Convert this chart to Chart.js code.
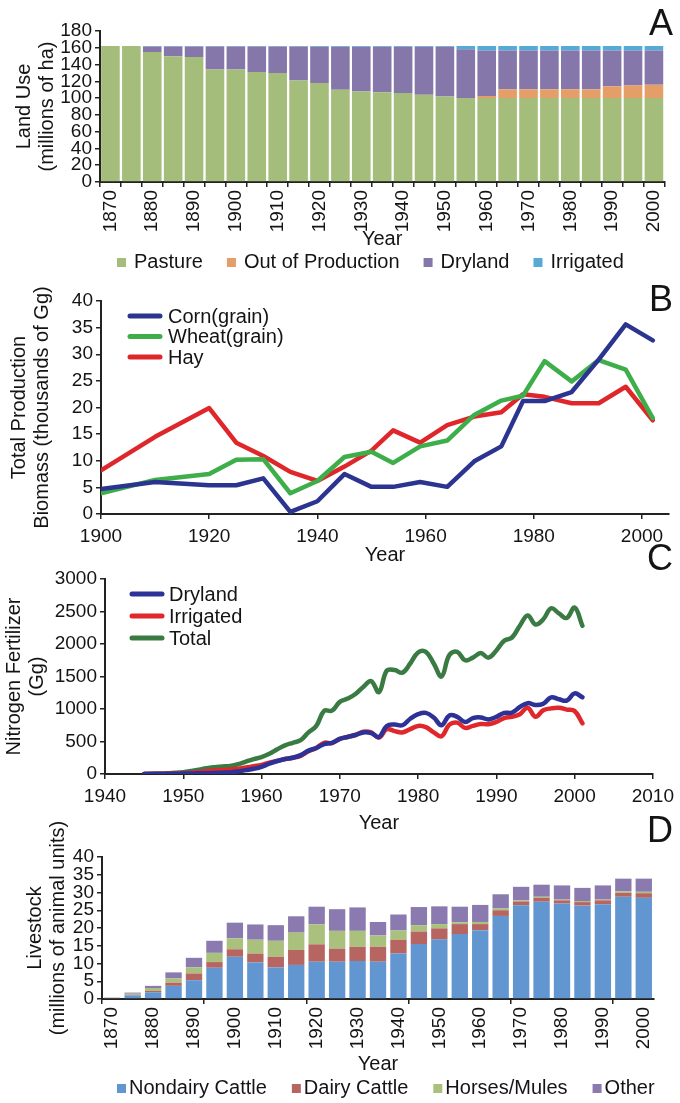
<!DOCTYPE html>
<html>
<head>
<meta charset="utf-8">
<script src="https://cdn.jsdelivr.net/npm/chart.js@4.4.0/dist/chart.umd.min.js"></script>
<style>
  html, body { margin: 0; padding: 0; background: #fff; }
  body { width: 680px; height: 1103px; position: relative; overflow: hidden; }
  canvas { position: absolute; left: 0; }
</style>
</head>
<body>
<canvas id="chartA" width="680" height="280" style="top:0px"></canvas>
<canvas id="chartB" width="680" height="290" style="top:280px"></canvas>
<canvas id="chartC" width="680" height="300" style="top:540px"></canvas>
<canvas id="chartD" width="680" height="293" style="top:810px"></canvas>
<script>
// A: land use (millions of ha)
var landYears = [1870, 1875, 1880, 1885, 1890, 1895, 1900, 1905, 1910, 1915, 1920, 1925, 1930, 1935,
                 1940, 1945, 1950, 1955, 1960, 1965, 1970, 1975, 1980, 1985, 1990, 1995, 2000];
var pasture = [162, 162, 155, 150, 149, 134, 134, 131, 130, 121, 118, 110, 108, 107,
               106, 104, 102, 100, 100, 100, 100, 100, 100, 100, 100, 100, 100];
var outOfProduction = [0, 0, 0, 0, 0, 0, 0, 0, 0, 0, 0, 0, 0, 0,
                       0, 0, 0, 0, 2.5, 10.5, 10.5, 10.5, 10.5, 10.5, 14, 15, 16];
var dryland = [0, 0, 6.6, 11.6, 12.6, 27.6, 27.6, 30.6, 31.6, 40.6, 43.2, 51.2, 53.2, 54.2,
               55.2, 57.2, 59.2, 58.3, 54.2, 46.2, 46.2, 46.2, 46.2, 46.2, 42.7, 41.7, 40.7];
var irrigated = [0, 0, 0.4, 0.4, 0.4, 0.4, 0.4, 0.4, 0.4, 0.4, 0.8, 0.8, 0.8, 0.8,
                 0.8, 0.8, 0.8, 3.7, 5.3, 5.3, 5.3, 5.3, 5.3, 5.3, 5.3, 5.3, 5.3];

// B: total production biomass (thousands of Gg)
var cropYears = [1900, 1910, 1920, 1925, 1930, 1935, 1940, 1945, 1950, 1954,
                 1959, 1964, 1969, 1974, 1978, 1982, 1987, 1992, 1997, 2002];
var corn = [4.7, 6.0, 5.4, 5.4, 6.7, 0.4, 2.4, 7.5, 5.1, 5.1,
            6.0, 5.1, 9.9, 12.7, 21.2, 21.2, 22.9, 29.0, 35.6, 32.6];
var wheat = [3.9, 6.4, 7.5, 10.2, 10.3, 3.9, 6.2, 10.7, 11.7, 9.6,
             12.7, 13.8, 18.6, 21.3, 22.2, 28.7, 24.9, 28.9, 27.1, 18.0];
var hay = [8.2, 14.5, 19.9, 13.4, 10.9, 7.9, 6.2, 8.9, 11.9, 15.7,
           13.4, 16.7, 18.3, 19.1, 22.5, 22.0, 20.8, 20.8, 23.9, 17.6];
var cropTicks = [1900, 1920, 1940, 1960, 1980, 2000];

// C: nitrogen fertilizer (Gg)
var fertYears = [1945, 1946, 1947, 1948, 1949, 1950, 1951, 1952, 1953, 1954,
                 1955, 1956, 1957, 1958, 1959, 1960, 1961, 1962, 1963, 1964,
                 1965, 1966, 1967, 1968, 1969, 1970, 1971, 1972, 1973, 1974,
                 1975, 1976, 1977, 1978, 1979, 1980, 1981, 1982, 1983, 1984,
                 1985, 1986, 1987, 1988, 1989, 1990, 1991, 1992, 1993, 1994,
                 1995, 1996, 1997, 1998, 1999, 2000, 2001];
var fertDryland = [0, 0, 0, 2, 4, 6, 8, 10, 12, 15,
                   20, 25, 40, 60, 80, 110, 160, 200, 230, 250,
                   290, 360, 400, 460, 480, 540, 570, 600, 640, 630,
                   570, 740, 760, 750, 850, 920, 940, 870, 750, 900,
                   880, 800, 860, 870, 840, 880, 940, 945, 1030, 1090,
                   1060, 1080, 1180, 1150, 1130, 1240, 1180];
var fertIrrigated = [0, 2, 4, 6, 8, 12, 20, 30, 45, 55,
                     60, 70, 80, 100, 120, 140, 175, 200, 230, 250,
                     280, 350, 400, 480, 475, 540, 570, 600, 650, 640,
                     560, 690, 660, 640, 690, 740, 720, 640, 580, 760,
                     790, 710, 740, 770, 765, 800, 860, 880, 920, 1020,
                     880, 980, 1010, 1020, 990, 970, 780];
var fertTotal = [0, 4, 8, 12, 18, 28, 45, 65, 90, 105,
                 115, 125, 150, 190, 230, 260, 310, 380, 440, 480,
                 520, 640, 740, 970, 975, 1110, 1160, 1230, 1340, 1430,
                 1260, 1590, 1600, 1560, 1700, 1870, 1880, 1700, 1500, 1830,
                 1880, 1750, 1790, 1860, 1790, 1900, 2050, 2100, 2280, 2440,
                 2300, 2380, 2550, 2470, 2400, 2560, 2280];
var fertTicks = [1940, 1950, 1960, 1970, 1980, 1990, 2000, 2010];

// D: livestock (millions of animal units)
var stockYears = landYears;
var nondairy = [0.2, 1.0, 1.9, 3.7, 5.3, 8.8, 11.9, 10.3, 8.9, 9.6, 10.5, 10.5, 10.7, 10.5,
                12.8, 15.5, 16.8, 18.3, 19.4, 23.4, 26.4, 27.4, 26.9, 26.3, 26.7, 28.8, 28.5];
var dairy = [0.05, 0.2, 0.4, 0.9, 1.9, 1.6, 2.1, 2.5, 3.0, 4.2, 4.9, 3.7, 4.0, 4.2,
             3.9, 3.5, 3.1, 2.8, 1.7, 1.6, 1.1, 1.1, 0.9, 1.0, 1.1, 1.1, 1.3];
var horses = [0.05, 0.3, 0.8, 1.2, 1.7, 2.6, 3.1, 3.9, 4.5, 4.9, 5.6, 5.0, 4.5, 3.2,
              2.6, 1.8, 1.2, 0.5, 0.6, 0.5, 0.3, 0.3, 0.2, 0.3, 0.2, 0.4, 0.4];
var otherStock = [0.1, 0.3, 0.6, 1.7, 2.7, 3.4, 4.4, 4.3, 4.4, 4.6, 5.0, 6.1, 6.6, 3.8,
                  4.5, 5.1, 5.0, 4.4, 4.8, 4.0, 3.8, 3.4, 4.0, 3.7, 4.0, 3.6, 3.7];

var FONT = "'Liberation Sans', Arial, sans-serif";
var INK = '#141414';
Chart.defaults.font.family = FONT;
Chart.defaults.font.size = 19;
Chart.defaults.color = INK;

function fixWidth(w) { return function (axis) { axis.width = w; }; }
function fixHeight(h) { return function (axis) { axis.height = h; }; }
function plain(v) { return String(v); }
function points(xs, ys) { return xs.map(function (x, i) { return { x: x, y: ys[i] }; }); }

// panel letter + hand placed legend
function decor(letter, base, legend) {
  return {
    id: 'decor' + letter,
    afterDraw: function (chart) {
      var ctx = chart.ctx;
      ctx.save();
      ctx.fillStyle = INK;
      ctx.font = '36px ' + FONT;
      ctx.textAlign = 'right';
      ctx.textBaseline = 'alphabetic';
      ctx.fillText(letter, 673, base);
      legend(chart, ctx);
      ctx.restore();
    }
  };
}

function boxLegend(x0, yc, textGap, itemGap) {
  return function (chart, ctx) {
    ctx.font = '20px ' + FONT;
    ctx.textAlign = 'left';
    ctx.textBaseline = 'middle';
    var x = x0;
    chart.data.datasets.forEach(function (ds) {
      ctx.fillStyle = ds.backgroundColor;
      ctx.fillRect(x, yc - 4, 9, 9);
      x += 9 + textGap;
      ctx.fillStyle = INK;
      ctx.fillText(ds.label, x, yc);
      x += ctx.measureText(ds.label).width + itemGap;
    });
  };
}

function lineLegend(x0, y0, rowH, textX) {
  return function (chart, ctx) {
    ctx.font = '20px ' + FONT;
    ctx.textAlign = 'left';
    ctx.textBaseline = 'middle';
    chart.data.datasets.forEach(function (ds, i) {
      var y = y0 + i * rowH;
      ctx.strokeStyle = ds.borderColor;
      ctx.lineWidth = 5;
      ctx.lineCap = 'round';
      ctx.beginPath();
      ctx.moveTo(x0, y);
      ctx.lineTo(x0 + 30, y);
      ctx.stroke();
      ctx.fillStyle = INK;
      ctx.fillText(ds.label, textX, y + 1);
    });
  };
}

function yAxis(max, step, width, lines, pad, stacked) {
  return {
    stacked: !!stacked,
    min: 0, max: max,
    ticks: { stepSize: step, padding: 3, autoSkip: false, callback: plain },
    grid: { drawOnChartArea: false, tickLength: 5, color: '#222', lineWidth: 1.5 },
    border: { color: '#222', width: 2 },
    title: { display: true, text: lines, font: { size: 20, lineHeight: 1.15 }, padding: { top: pad, bottom: 0 } },
    afterFit: fixWidth(width)
  };
}

function yearTitle() {
  return { display: true, text: 'Year', font: { size: 20, lineHeight: 1.15 }, padding: { top: 0, bottom: 0 } };
}

function barXAxis(height, tickColor) {
  return {
    stacked: true,
    grid: { offset: true, drawOnChartArea: false, tickLength: 5, color: tickColor, lineWidth: 1.5 },
    border: { color: '#222', width: 2 },
    ticks: {
      autoSkip: false, minRotation: 90, maxRotation: 90, padding: 3,
      callback: function (v, i) { return i % 2 === 0 ? String(this.getLabelForValue(v)) : ''; }
    },
    title: yearTitle(),
    afterFit: fixHeight(height)
  };
}

function lineXAxis(min, max, tickValues, height) {
  return {
    type: 'linear', min: min, max: max,
    afterBuildTicks: function (axis) {
      axis.ticks = tickValues.map(function (v) { return { value: v }; });
    },
    ticks: { padding: 6, maxRotation: 0, autoSkip: false, callback: plain },
    grid: { drawOnChartArea: false, tickLength: 5, color: '#222', lineWidth: 1.5 },
    border: { color: '#222', width: 2 },
    title: yearTitle(),
    afterFit: fixHeight(height)
  };
}

var base = { responsive: false, animation: false, devicePixelRatio: 1 };
var quiet = { legend: { display: false }, tooltip: { enabled: false } };

new Chart(document.getElementById('chartA'), {
  type: 'bar',
  data: {
    labels: landYears,
    datasets: [
      { label: 'Pasture', data: pasture, backgroundColor: '#a5bd7b' },
      { label: 'Out of Production', data: outOfProduction, backgroundColor: '#e49e67' },
      { label: 'Dryland', data: dryland, backgroundColor: '#8677ab' },
      { label: 'Irrigated', data: irrigated, backgroundColor: '#56abd6' }
    ]
  },
  options: Object.assign({}, base, {
    layout: { padding: { left: 0, right: 15, top: 31, bottom: 29 } },
    datasets: { bar: { categoryPercentage: 0.89, barPercentage: 1, borderWidth: 0 } },
    plugins: quiet,
    scales: {
      x: barXAxis(69, '#222'),
      y: yAxis(180, 20, 100, ['Land Use', '(millions of ha)'], 12.5, true)
    }
  }),
  plugins: [decor('A', 35, boxLegend(117, 262, 8, 24))]
});

function lineSet(label, xs, ys, color, tension) {
  return {
    label: label, data: points(xs, ys), borderColor: color, backgroundColor: color,
    borderWidth: 4.5, pointRadius: 0, tension: tension, fill: false,
    borderJoinStyle: 'round', borderCapStyle: 'round'
  };
}

new Chart(document.getElementById('chartB'), {
  type: 'line',
  data: {
    datasets: [
      lineSet('Corn(grain)', cropYears, corn, '#2b3590', 0),
      lineSet('Wheat(grain)', cropYears, wheat, '#3dae49', 0),
      lineSet('Hay', cropYears, hay, '#df262b', 0)
    ]
  },
  options: Object.assign({}, base, {
    layout: { padding: { left: 0, right: 11, top: 21, bottom: 3 } },
    plugins: quiet,
    scales: {
      x: lineXAxis(1900, 2005, cropTicks, 53),
      y: yAxis(40, 5, 101, ['Total Production', 'Biomass (thousands of Gg)'], 7.5)
    }
  }),
  plugins: [decor('B', 31, lineLegend(130, 36, 20.5, 168))]
});

new Chart(document.getElementById('chartC'), {
  type: 'line',
  data: {
    datasets: [
      lineSet('Dryland', fertYears, fertDryland, '#2d3296', 0.4),
      lineSet('Irrigated', fertYears, fertIrrigated, '#e0272b', 0.4),
      lineSet('Total', fertYears, fertTotal, '#3a7a43', 0.4)
    ]
  },
  options: Object.assign({}, base, {
    layout: { padding: { left: 0, right: 27, top: 39, bottom: 5 } },
    plugins: quiet,
    scales: {
      x: lineXAxis(1940, 2010, fertTicks, 61),
      y: yAxis(3000, 500, 105, ['Nitrogen Fertilizer', '(Gg)'], 2.5)
    }
  }),
  plugins: [decor('C', 30, lineLegend(132, 54, 22, 169))]
});

new Chart(document.getElementById('chartD'), {
  type: 'bar',
  data: {
    labels: stockYears,
    datasets: [
      { label: 'Nondairy Cattle', data: nondairy, backgroundColor: '#6196d0' },
      { label: 'Dairy Cattle', data: dairy, backgroundColor: '#b76561' },
      { label: 'Horses/Mules', data: horses, backgroundColor: '#a9c17c' },
      { label: 'Other', data: otherStock, backgroundColor: '#8a7ab0' }
    ]
  },
  options: Object.assign({}, base, {
    layout: { padding: { left: 0, right: 26, top: 47, bottom: 27 } },
    datasets: { bar: { categoryPercentage: 0.8, barPercentage: 1, borderWidth: 0 } },
    plugins: quiet,
    scales: {
      x: barXAxis(77, function (c) { return c.index % 5 === 0 ? '#222' : 'rgba(0,0,0,0)'; }),
      y: yAxis(40, 5, 102, ['Livestock', '(millions of animal units)'], 23.5, true)
    }
  }),
  plugins: [decor('D', 32, boxLegend(117, 278, 3, 25))]
});
</script>
</body>
</html>
